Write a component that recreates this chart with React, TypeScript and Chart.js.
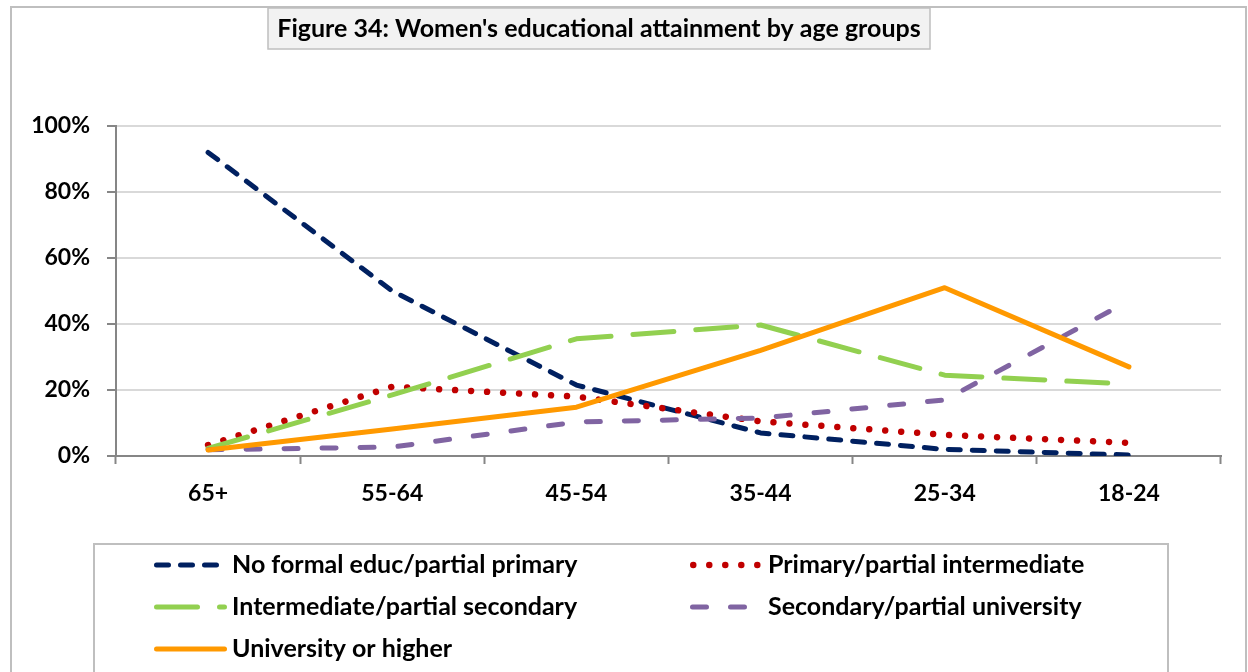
import React, { useEffect, useRef } from "react";
import { Chart, registerables } from "chart.js";

Chart.register(...registerables);

const categories = ["65+", "55-64", "45-54", "35-44", "25-34", "18-24"];
const noFormal = [92, 50, 21.5, 7, 2, 0.3];
const primary = [3.3, 21, 18, 10.5, 6.4, 4];
const intermediate = [2.3, 18.5, 35.5, 39.7, 24.5, 21.8];
const secondary = [1.9, 2.7, 10.3, 11.5, 17, 47];
const university = [1.8, 8.2, 14.8, 32, 51, 27];
const yTicks = [0, 20, 40, 60, 80, 100];

const titleText = "Figure 34: Women's educational attainment by age groups";
const seriesNames = [
  "No formal educ/partial primary",
  "Primary/partial intermediate",
  "Intermediate/partial secondary",
  "Secondary/partial university",
  "University or higher",
];
const seriesColors = ["#002060", "#C00000", "#92D050", "#8064A2", "#FF9900"];
const seriesDash = [[12, 12], [0.01, 16], [41, 22], [14, 24], []];
const seriesWidth = [5, 6.5, 5, 5, 5];

const FONT = "Lato, 'Open Sans', sans-serif";

const framePlugin = {
  id: "frame",
  beforeDraw(chart: any) {
    const ctx = chart.ctx;
    ctx.save();
    ctx.fillStyle = "#ffffff";
    ctx.fillRect(0, 0, chart.width, chart.height);
    ctx.strokeStyle = "#BFBFBF";
    ctx.lineWidth = 2;
    ctx.strokeRect(11, 7, 1235, 700);
    // title box
    ctx.fillStyle = "#F2F2F2";
    ctx.fillRect(268, 8, 662, 41);
    ctx.lineWidth = 1.5;
    ctx.strokeRect(268, 8, 662, 41);
    ctx.fillStyle = "#000";
    ctx.font = `bold 25px ${FONT}`;
    ctx.textAlign = "center";
    ctx.textBaseline = "middle";
    ctx.fillText(titleText, 599, 29);
    ctx.restore();
  },
  afterDraw(chart: any) {
    const ctx = chart.ctx;
    ctx.save();
    ctx.strokeStyle = "#BFBFBF";
    ctx.lineWidth = 2;
    ctx.strokeRect(94, 544, 1074, 140);
    const rows = [565, 607, 649];
    const cols = [154, 690];
    chart.data.datasets.forEach((ds: any, i: number) => {
      const r = Math.floor(i / 2);
      const c = i % 2;
      const x0 = cols[c];
      const y = rows[r];
      ctx.save();
      ctx.strokeStyle = ds.borderColor;
      ctx.lineWidth = ds.borderWidth;
      ctx.lineCap = "round";
      ctx.setLineDash(ds.borderDash || []);
      const cap = ds.borderWidth / 2;
      ctx.beginPath();
      ctx.moveTo(x0 + cap, y);
      ctx.lineTo(x0 + 73 - cap, y);
      ctx.stroke();
      ctx.restore();
      ctx.fillStyle = "#000";
      ctx.font = `bold 25px ${FONT}`;
      ctx.textAlign = "left";
      ctx.textBaseline = "middle";
      ctx.fillText(ds.label, x0 + 78, y);
    });
    ctx.restore();
  },
};

export default function App() {
  const ref = useRef<HTMLCanvasElement | null>(null);
  useEffect(() => {
    if (!ref.current) return;
    const values = [noFormal, primary, intermediate, secondary, university];
    const chart = new Chart(ref.current, {
      type: "line",
      data: {
        labels: categories,
        datasets: values.map((v, i) => ({
          label: seriesNames[i],
          data: v,
          borderColor: seriesColors[i],
          backgroundColor: seriesColors[i],
          borderWidth: seriesWidth[i],
          borderDash: seriesDash[i],
          borderCapStyle: "round",
          borderJoinStyle: "round",
          pointRadius: 0,
          tension: 0,
          fill: false,
          order: 4 - i,
        })),
      },
      options: {
        animation: false,
        responsive: false,
        maintainAspectRatio: false,
        layout: { padding: { left: 0, top: 126, right: 27, bottom: 0 } },
        plugins: {
          legend: { display: false },
          title: { display: false },
          tooltip: { enabled: false },
        },
        scales: {
          x: {
            type: "category",
            offset: true,
            grid: {
              offset: true,
              drawOnChartArea: false,
              drawTicks: true,
              tickLength: 8,
              tickColor: "#868686",
              tickWidth: 2,
            },
            border: { display: true, color: "#868686", width: 2 },
            ticks: {
              color: "#000",
              font: { family: FONT, size: 23, weight: "bold" },
              padding: 16,
              maxRotation: 0,
            },
            afterFit: (s: any) => {
              s.height = 216;
            },
          },
          y: {
            min: 0,
            max: 100,
            afterBuildTicks: (s: any) => {
              s.ticks = yTicks.map((v) => ({ value: v }));
            },
            grid: {
              color: "#D9D9D9",
              lineWidth: 2,
              drawTicks: true,
              tickLength: 9,
              tickColor: "#868686",
              tickWidth: 2,
            },
            border: { display: true, color: "#868686", width: 2 },
            ticks: {
              color: "#000",
              font: { family: FONT, size: 23, weight: "bold" },
              padding: 17,
              callback: (v: any) => `${v}%`,
            },
            afterFit: (s: any) => {
              s.width = 116;
            },
          },
        },
      },
      plugins: [framePlugin],
    });
    return () => chart.destroy();
  }, []);
  return (
    <div style={{ position: "absolute", left: 0, top: 0, width: 1248, height: 672 }}>
      <canvas ref={ref} width={1248} height={672} style={{ width: 1248, height: 672, display: "block" }} />
    </div>
  );
}
